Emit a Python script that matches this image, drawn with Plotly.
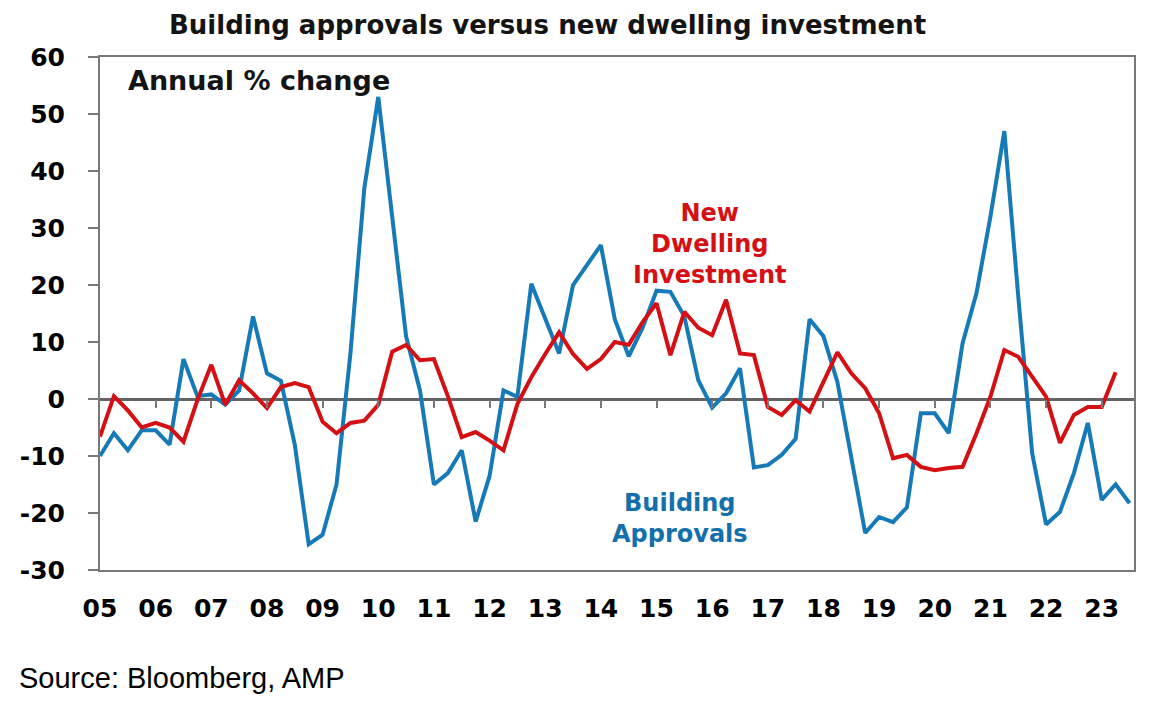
import plotly.graph_objects as go

# quarterly data, 2005 Q1 onwards
start_year = 2005

building_approvals = [
    -10, -6, -9, -5.5, -5.5, -8, 7, 0.5, 0.8, -1, 1.5, 14.5,
    4.5, 3.2, -8, -25.5, -23.8, -15, 8, 37, 53, 32, 11, 1.5,
    -15, -13, -9, -21.5, -13.5, 1.5, 0.4, 20.2, 14, 8, 20, 23.5,
    27, 14, 7.5, 12.5, 19, 18.8, 14.5, 3.3, -1.5, 1, 5.4, -12,
    -11.6, -9.8, -7, 14, 11, 3, -10, -23.5, -20.7, -21.6, -19, -2.5,
    -2.5, -6, 9.8, 18.6, 32, 47, 18, -9.5, -22, -19.8, -13, -4.2,
    -17.7, -15, -18.3,
]

new_dwelling_investment = [
    -6.6, 0.5, -2, -5, -4.2, -5, -7.5, -0.2, 6, -1, 3.3, 1,
    -1.6, 2.1, 2.8, 2.1, -4, -6, -4.2, -3.8, -1, 8.3, 9.5, 6.8,
    7, 0.5, -6.7, -5.8, -7.3, -9, -0.9, 3.8, 7.9, 11.7, 7.9, 5.3,
    7, 10, 9.5, 13.5, 16.8, 7.7, 15.3, 12.5, 11.2, 17.4, 8, 7.7,
    -1.4, -2.8, -0.2, -2.2, 3, 8.2, 4.5, 1.9, -2.5, -10.4, -9.8, -11.9,
    -12.5, -12.1, -11.9, -6, 0.4, 8.6, 7.4, 3.9, 0.4, -7.7, -2.8, -1.4,
    -1.4, 4.7,
]

years = list(range(2005, 2024))
year_labels = ['%02d' % (y % 100) for y in years]
y_ticks = [60, 50, 40, 30, 20, 10, 0, -10, -20, -30]
y_labels = [str(v) for v in y_ticks]

x_ba = [start_year + i / 4 for i in range(len(building_approvals))]
x_ndi = [start_year + i / 4 for i in range(len(new_dwelling_investment))]

blue = 'rgb(22,122,184)'
red = 'rgb(212,16,20)'
axis_grey = 'rgb(120,120,120)'
bold_font = 'DejaVu Sans'
x_range = [2005, 2023.58]

fig = go.Figure()

fig.add_trace(go.Scatter(
    x=x_ba, y=building_approvals,
    mode='lines',
    line=dict(color=blue, width=4),
    name='Building Approvals',
))

# red on the overlay axis so it sits on top and the zero-line ticks get drawn
fig.add_trace(go.Scatter(
    x=x_ndi, y=new_dwelling_investment,
    mode='lines',
    line=dict(color=red, width=4),
    name='New Dwelling Investment',
    xaxis='x2',
))

# page body has an 8px margin, so the figure is a bit smaller than the window
fig.update_layout(
    width=1156,
    height=703,
    margin=dict(l=90, r=30, t=49, b=141),
    plot_bgcolor='white',
    paper_bgcolor='white',
    showlegend=False,
    xaxis=dict(
        range=x_range,
        tickmode='array',
        tickvals=years,
        ticktext=year_labels,
        ticks='',
        ticklabelstandoff=15,
        tickfont=dict(family=bold_font, size=25, color='black', weight='bold'),
        showline=True,
        linecolor=axis_grey,
        linewidth=2,
        mirror=True,
        showgrid=False,
        zeroline=False,
    ),
    xaxis2=dict(
        range=x_range,
        overlaying='x',
        anchor='free',
        position=1 / 3,
        side='bottom',
        tickmode='array',
        tickvals=years[1:],
        showticklabels=False,
        ticks='outside',
        ticklen=8,
        tickwidth=1.5,
        tickcolor=axis_grey,
        showline=False,
        showgrid=False,
        zeroline=False,
    ),
    yaxis=dict(
        range=[-30, 60],
        tickmode='array',
        tickvals=y_ticks,
        ticktext=y_labels,
        ticks='outside',
        ticklen=10,
        tickwidth=1.5,
        tickcolor=axis_grey,
        ticklabelstandoff=18,
        tickfont=dict(family=bold_font, size=25, color='black', weight='bold'),
        showline=True,
        linecolor=axis_grey,
        linewidth=2,
        mirror=True,
        showgrid=False,
        zeroline=True,
        zerolinecolor='rgb(100,100,100)',
        zerolinewidth=2.5,
    ),
)

# title, hung from the top edge of the figure so it is not clipped
fig.add_annotation(
    text='Building approvals versus new dwelling investment',
    xref='paper', yref='paper', x=0.4324, y=1.094,
    xanchor='center', yanchor='top', showarrow=False, borderpad=0,
    font=dict(family=bold_font, size=26, color='rgb(20,20,20)', weight='bold'),
)

fig.add_annotation(
    text='Annual % change',
    xref='paper', yref='paper', x=0.025, y=0.955,
    xanchor='left', yanchor='middle', showarrow=False,
    font=dict(family=bold_font, size=27, color='rgb(20,20,20)', weight='bold'),
)

fig.add_annotation(
    text='New<br>Dwelling<br>Investment', x=2015.97, y=27.2,
    xanchor='center', yanchor='middle', showarrow=False,
    font=dict(family=bold_font, size=24, color=red, weight='bold'),
)

fig.add_annotation(
    text='Building<br>Approvals', x=2015.43, y=-20.9,
    xanchor='center', yanchor='middle', showarrow=False,
    font=dict(family=bold_font, size=24, color='rgb(20,112,172)', weight='bold'),
)

fig.add_annotation(
    text='Source: Bloomberg, AMP',
    xref='paper', yref='paper', x=-0.0801, y=-0.2105,
    xanchor='left', yanchor='middle', showarrow=False,
    font=dict(family='Liberation Sans', size=29, color='black'),
)

fig.write_html('out.html')
